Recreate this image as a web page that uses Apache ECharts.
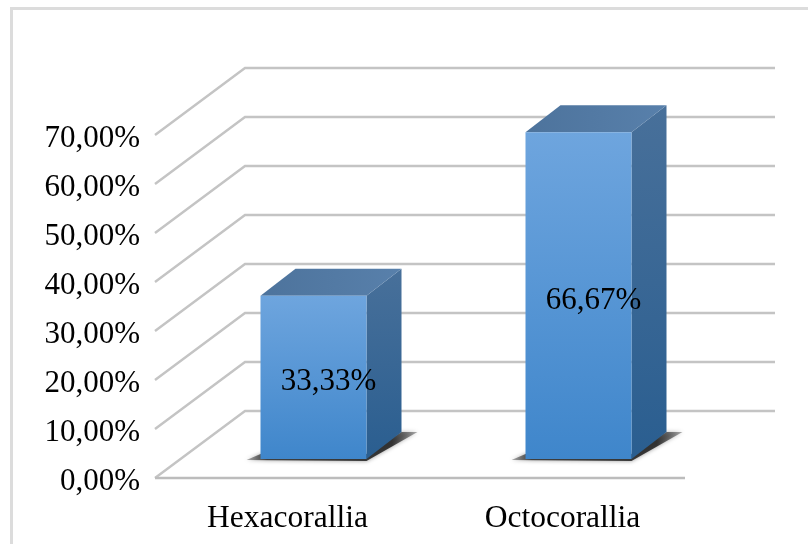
<!DOCTYPE html>
<html>
<head>
<meta charset="utf-8">
<style>html,body{margin:0;padding:0;background:#fff}#c{width:808px;height:544px}</style>
<script src="https://cdn.jsdelivr.net/npm/echarts@6/dist/echarts.min.js"></script>
</head>
<body>
<div id="c"></div>
<script>
var categories = ['Hexacorallia', 'Octocorallia'];
var values = [33.33, 66.67];
var ticks = [0, 10, 20, 30, 40, 50, 60, 70];

// pseudo-3D projection, in pixels
var wallDepth = { x: 90, y: -67 };
var barPlane = { x: 26, y: -19 };
var barDepth = { x: 35, y: -27 };
var barWidth = 106;

var chart = echarts.init(document.getElementById('c'), null, { renderer: 'canvas' });
var font = '"Liberation Serif","Times New Roman",serif';

function lin(x0, y0, x1, y1, a, b) {
  return new echarts.graphic.LinearGradient(x0, y0, x1, y1, [{ offset: 0, color: a }, { offset: 1, color: b }]);
}

function renderGrid(params, api) {
  var cs = params.coordSys;
  var v = api.value(0);
  var y = api.coord([0, v])[1];
  var pts = [[cs.x, y], [cs.x + wallDepth.x, y + wallDepth.y], [cs.x + cs.width + wallDepth.x, y + wallDepth.y]];
  var children = [{
    type: 'polyline', shape: { points: pts },
    style: { stroke: '#c4c4c4', lineWidth: 2.4, fill: null }
  }];
  if (v === 0) {
    children.push({
      type: 'line', shape: { x1: cs.x, y1: y, x2: cs.x + cs.width, y2: y },
      style: { stroke: '#bcbcbc', lineWidth: 2.4 }
    });
  }
  return { type: 'group', children: children };
}

function renderBar(params, api) {
  var cat = api.value(0), val = api.value(1);
  var top = api.coord([cat, val]), base = api.coord([cat, 0]);
  var l = top[0] + barPlane.x - barWidth / 2, r = l + barWidth;
  var t = top[1] + barPlane.y, b = base[1] + barPlane.y;
  var dx = barDepth.x, dy = barDepth.y;
  return {
    type: 'group',
    children: [
      { // ground shadow
        type: 'polygon',
        shape: { points: [[l - 14, b + 1], [r, b + 2], [r + dx + 16, b + dy], [r + dx, b + dy], [r, b - 5], [l, b - 5]] },
        style: {
          fill: new echarts.graphic.LinearGradient(0, 0, 1, 0, [
            { offset: 0, color: 'rgba(60,60,60,0.4)' },
            { offset: 0.12, color: 'rgba(40,40,40,0.85)' },
            { offset: 0.85, color: 'rgba(30,30,30,0.85)' },
            { offset: 1, color: 'rgba(60,60,60,0.4)' }
          ]),
          shadowBlur: 4, shadowColor: 'rgba(50,50,50,0.6)'
        }
      },
      { // right side
        type: 'polygon',
        shape: { points: [[r, t], [r + dx, t + dy], [r + dx, b + dy], [r, b]] },
        style: { fill: lin(0, 0, 0, 1, '#48709a', '#2a5e90') }
      },
      { // top
        type: 'polygon',
        shape: { points: [[l, t], [l + dx, t + dy], [r + dx, t + dy], [r, t]] },
        style: { fill: lin(0, 0, 1, 0, '#4d739c', '#5880ab') }
      },
      { // front
        type: 'rect',
        shape: { x: l, y: t, width: r - l, height: b - t },
        style: { fill: lin(0, 0, 0, 1, '#6ea5de', '#3f86cb') }
      },
      { // value label
        type: 'text',
        style: {
          x: (l + r) / 2 + 15, y: (t + b) / 2 + 5,
          text: api.value(1).toFixed(2).replace('.', ',') + '%',
          font: '31px ' + font, fill: '#000', align: 'center', verticalAlign: 'middle'
        }
      }
    ]
  };
}

chart.setOption({
  animation: false,
  backgroundColor: '#fff',
  graphic: [
    { type: 'rect', silent: true, z: -1, shape: { x: 10, y: 7, width: 3, height: 537 }, style: { fill: '#dcdcdc' } },
    { type: 'rect', silent: true, z: -1, shape: { x: 10, y: 7, width: 798, height: 3 }, style: { fill: '#dcdcdc' } }
  ],
  grid: { left: 155, top: 135, width: 530, height: 343, containLabel: false },
  xAxis: {
    type: 'category', data: categories,
    axisLine: { show: false }, axisTick: { show: false }, splitLine: { show: false },
    axisLabel: {
      margin: 25, color: '#000',
      formatter: function (v, i) { return i === 1 ? '{b|' + v + '}' : '{a|' + v + '}'; },
      rich: {
        a: { fontFamily: font, fontSize: 31.5, color: '#000' },
        b: { fontFamily: font, fontSize: 31.5, color: '#000', padding: [0, 0, 0, 20] }
      }
    }
  },
  yAxis: {
    type: 'value', min: 0, max: 70, interval: 10,
    axisLine: { show: false }, axisTick: { show: false }, splitLine: { show: false },
    axisLabel: {
      margin: 15, color: '#000',
      formatter: function (v) { return '{t|' + v.toFixed(2).replace('.', ',') + '%}'; },
      rich: { t: { fontFamily: font, fontSize: 31, color: '#000', padding: [7, 0, 0, 0] } }
    }
  },
  series: [
    { type: 'custom', coordinateSystem: 'cartesian2d', silent: true, clip: false, z: 1,
      encode: { y: 0 }, data: ticks.map(function (t) { return [t]; }), renderItem: renderGrid },
    { type: 'custom', coordinateSystem: 'cartesian2d', silent: true, clip: false, z: 2,
      encode: { x: 0, y: 1 }, data: values.map(function (v, i) { return [i, v]; }), renderItem: renderBar }
  ]
});
</script>
</body>
</html>
